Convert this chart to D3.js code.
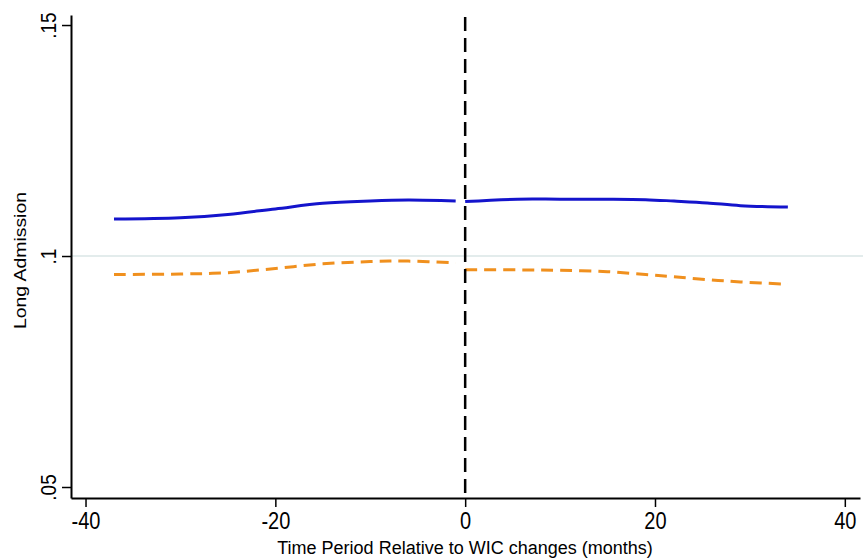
<!DOCTYPE html>
<html>
    <head>
        <meta charset="utf-8">
        <script src="https://d3js.org/d3.v7.min.js"></script>
        <style>
            body { margin: 0; background: #fff; }
            text { font-family: "Liberation Sans", Arial, sans-serif; }
        </style>
    </head>
    <body>
        <div id="chart"></div>
        <script>
            // data
            const preMonths  = [-37, -30, -25, -20, -15, -10, -6, -1]
            const preBlue    = [0.1080, 0.1083, 0.1090, 0.1102, 0.1114, 0.1119, 0.1121, 0.1119]
            const preOrange  = [0.0960, 0.0961, 0.0964, 0.0973, 0.0983, 0.0988, 0.0989, 0.0985]
            const postMonths = [0, 5.5, 10, 15, 19, 22, 25.5, 29, 34]
            const postBlue   = [0.1118, 0.1123, 0.1123, 0.1123, 0.1122, 0.1119, 0.1115, 0.1109, 0.1106]
            const postOrange = [0.0970, 0.0970, 0.0969, 0.0966, 0.0960, 0.0955, 0.0949, 0.0944, 0.0939]
            const xTicks = [-40, -20, 0, 20, 40]
            const yTicks = [0.05, 0.1, 0.15]
            const yTickLabels = [".05", ".1", ".15"]

            const width = 863, height = 560

            const x = d3.scaleLinear([-41.53, 41.6], [71, 860])
            const y = d3.scaleLinear([0.04762, 0.15217], [498, 15])

            const svg = d3.select("#chart").append("svg")
                .attr("width", width)
                .attr("height", height)

            // reference line at .1
            svg.append("line")
                .attr("x1", 72).attr("x2", width)
                .attr("y1", y(0.1)).attr("y2", y(0.1))
                .attr("stroke", "#e3ecec")
                .attr("stroke-width", 2)

            const line = d3.line()
                .x(d => x(d[0]))
                .y(d => y(d[1]))
                .curve(d3.curveCatmullRom)

            const zip = (a, b) => a.map((v, i) => [v, b[i]])

            const series = [
                {pts: zip(preMonths, preBlue), color: "#1414cc", dash: null},
                {pts: zip(postMonths, postBlue), color: "#1414cc", dash: null},
                {pts: zip(preMonths, preOrange), color: "#f0901e", dash: "12,7"},
                {pts: zip(postMonths, postOrange), color: "#f0901e", dash: "12,7"}
            ]

            svg.append("g")
                .selectAll("path")
                .data(series)
                .join("path")
                .attr("d", d => line(d.pts))
                .attr("fill", "none")
                .attr("stroke", d => d.color)
                .attr("stroke-width", 3)
                .attr("stroke-dasharray", d => d.dash)

            // event line at 0
            svg.append("line")
                .attr("x1", x(0)).attr("x2", x(0))
                .attr("y1", 17).attr("y2", 498)
                .attr("stroke", "#000")
                .attr("stroke-width", 2.5)
                .attr("stroke-dasharray", "14,7")

            // x axis
            const xAxis = svg.append("g")
                .attr("transform", `translate(0,${y.range()[0]})`)
                .call(d3.axisBottom(x).tickValues(xTicks).tickFormat(d => String(d))
                    .tickSize(9).tickSizeOuter(0).tickPadding(4))
            xAxis.select(".domain").attr("stroke-width", 2)
            xAxis.selectAll(".tick line").attr("stroke-width", 1.5)
            xAxis.selectAll(".tick text")
                .attr("font-size", 20)
                .attr("fill", "#000")
                .attr("transform", "scale(1,1.15)")

            // y axis
            const yAxis = svg.append("g")
                .attr("transform", `translate(${x.range()[0]},0)`)
                .call(d3.axisLeft(y).tickValues(yTicks).tickFormat((d, i) => yTickLabels[i]).tickSize(9).tickSizeOuter(0))
            yAxis.select(".domain").attr("stroke-width", 2)
            yAxis.selectAll(".tick line").attr("stroke-width", 1.5)
            yAxis.selectAll(".tick text")
                .attr("font-size", 19)
                .attr("fill", "#000")
                .attr("x", null).attr("dy", null)
                .attr("text-anchor", "middle")
                .attr("transform", "translate(-15,0) rotate(-90) scale(1,1.15)")

            svg.append("text")
                .attr("x", 465)
                .attr("y", 554)
                .attr("text-anchor", "middle")
                .attr("font-size", 18)
                .text("Time Period Relative to WIC changes (months)")

            svg.append("text")
                .attr("transform", `translate(26,${(y.range()[0] + y.range()[1]) / 2 + 4}) rotate(-90)`)
                .attr("text-anchor", "middle")
                .attr("font-size", 16)
                .attr("textLength", 137)
                .attr("lengthAdjust", "spacingAndGlyphs")
                .text("Long Admission")
        </script>
    </body>
</html>
